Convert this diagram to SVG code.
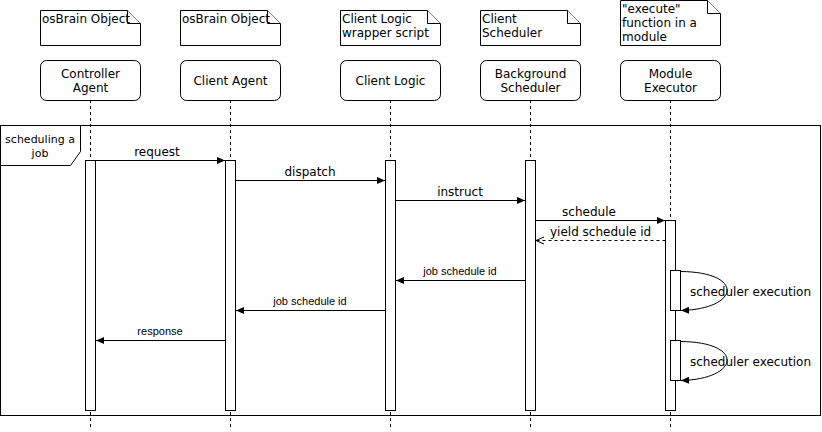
<svg xmlns="http://www.w3.org/2000/svg" width="822" height="432" viewBox="0 0 822 432">
<style>
.note{fill:#fff;stroke:#000;stroke-width:1}
.box{fill:#fff;stroke:#000;stroke-width:1}
.life{stroke:#000;stroke-width:1;stroke-dasharray:3 3;fill:none}
.act{fill:#fff;stroke:#000;stroke-width:1}
.msg{stroke:#000;stroke-width:1;fill:none}
.t{font-family:"DejaVu Sans",sans-serif;font-size:12px;fill:#000}
.tf{font-family:"DejaVu Sans",sans-serif;font-size:11px;fill:#000}
.ts{font-family:"Liberation Sans",Arial,sans-serif;font-size:11px;fill:#000}
.c{text-anchor:middle}
</style>
<defs>
<marker id="fa" markerWidth="10" markerHeight="10" refX="9" refY="5" orient="auto" markerUnits="userSpaceOnUse">
<path d="M1,1.5 L9,5 L1,8.5 Z" fill="#000"/>
</marker>
<marker id="oa" markerWidth="10" markerHeight="10" refX="9" refY="5" orient="auto" markerUnits="userSpaceOnUse">
<path d="M1,1.5 L9,5 L1,8.5" fill="none" stroke="#000"/>
</marker>
</defs>
<rect x="0" y="0" width="822" height="432" fill="#fff"/>

<g id="frame">
<rect x="0.5" y="125.5" width="820" height="290" fill="none" stroke="#000"/>
<path d="M0.5,125.5 H80.5 V151.5 L70.5,165.5 H0.5 Z" fill="#fff" stroke="#000"/>
<text class="tf c" x="40" y="143">scheduling a</text>
<text class="tf c" x="40" y="157">job</text>
</g>

<g id="note1"><path class="note" d="M40.5,10.5 H127.5 L140.5,23.5 V45.5 H40.5 Z"/><path class="note" d="M127.5,10.5 V23.5 H140.5" fill="none"/><text class="t" x="42" y="23">osBrain Object</text></g>
<g id="note2"><path class="note" d="M180.5,10.5 H267.5 L280.5,23.5 V45.5 H180.5 Z"/><path class="note" d="M267.5,10.5 V23.5 H280.5" fill="none"/><text class="t" x="182" y="23">osBrain Object</text></g>
<g id="note3"><path class="note" d="M340.5,10.5 H427.5 L440.5,23.5 V45.5 H340.5 Z"/><path class="note" d="M427.5,10.5 V23.5 H440.5" fill="none"/><text class="t" x="342" y="23">Client Logic</text><text class="t" x="342" y="37">wrapper script</text></g>
<g id="note4"><path class="note" d="M480.5,10.5 H567.5 L580.5,23.5 V45.5 H480.5 Z"/><path class="note" d="M567.5,10.5 V23.5 H580.5" fill="none"/><text class="t" x="482" y="23">Client</text><text class="t" x="482" y="37">Scheduler</text></g>
<g id="note5"><path class="note" d="M620.5,0.5 H707.5 L720.5,13.5 V45.5 H620.5 Z"/><path class="note" d="M707.5,0.5 V13.5 H720.5" fill="none"/><text class="t" x="622" y="13">"execute"</text><text class="t" x="622" y="27">function in a</text><text class="t" x="622" y="41">module</text></g>

<g id="controller">
<line class="life" x1="90.5" y1="100" x2="90.5" y2="428"/>
<rect class="box" x="40.5" y="60.5" width="100" height="40" rx="6"/>
<text class="t c" x="90.5" y="78">Controller</text><text class="t c" x="90.5" y="92">Agent</text>
<rect class="act" x="85.5" y="160.5" width="10" height="250"/>
</g>
<g id="clientagent">
<line class="life" x1="230.5" y1="100" x2="230.5" y2="428"/>
<rect class="box" x="180.5" y="60.5" width="100" height="40" rx="6"/>
<text class="t c" x="230.5" y="85">Client Agent</text>
<rect class="act" x="225.5" y="160.5" width="10" height="250"/>
</g>
<g id="clientlogic">
<line class="life" x1="390.5" y1="100" x2="390.5" y2="428"/>
<rect class="box" x="340.5" y="60.5" width="100" height="40" rx="6"/>
<text class="t c" x="390.5" y="85">Client Logic</text>
<rect class="act" x="385.5" y="160.5" width="10" height="250"/>
</g>
<g id="bgscheduler">
<line class="life" x1="530.5" y1="100" x2="530.5" y2="428"/>
<rect class="box" x="480.5" y="60.5" width="100" height="40" rx="6"/>
<text class="t c" x="530.5" y="78">Background</text><text class="t c" x="530.5" y="92">Scheduler</text>
<rect class="act" x="525.5" y="160.5" width="10" height="250"/>
</g>
<g id="moduleexecutor">
<line class="life" x1="670.5" y1="100" x2="670.5" y2="428"/>
<rect class="box" x="620.5" y="60.5" width="100" height="40" rx="6"/>
<text class="t c" x="670.5" y="78">Module</text><text class="t c" x="670.5" y="92">Executor</text>
<rect class="act" x="665.5" y="220.5" width="10" height="190"/>
<rect class="act" x="670.5" y="270.5" width="10" height="40"/>
<rect class="act" x="670.5" y="340.5" width="10" height="40"/>
</g>

<g id="connectors">
<line class="msg" x1="95.5" y1="160.5" x2="225" y2="160.5" marker-end="url(#fa)"/>
<text class="t c" x="157" y="156">request</text>
<line class="msg" x1="235.5" y1="180.5" x2="385" y2="180.5" marker-end="url(#fa)"/>
<text class="t c" x="310" y="176">dispatch</text>
<line class="msg" x1="395.5" y1="200.5" x2="525" y2="200.5" marker-end="url(#fa)"/>
<text class="t c" x="460" y="196">instruct</text>
<line class="msg" x1="535.5" y1="220.5" x2="665" y2="220.5" marker-end="url(#fa)"/>
<text class="t c" x="589" y="216">schedule</text>
<line class="msg" x1="665.5" y1="240.5" x2="536" y2="240.5" stroke-dasharray="3 3" marker-end="url(#oa)"/>
<text class="t" x="550" y="236">yield schedule id</text>
<line class="msg" x1="525.5" y1="280.5" x2="396" y2="280.5" marker-end="url(#fa)"/>
<text class="ts c" x="460" y="275">job schedule id</text>
<line class="msg" x1="385.5" y1="310.5" x2="236" y2="310.5" marker-end="url(#fa)"/>
<text class="ts c" x="310" y="305">job schedule id</text>
<line class="msg" x1="225.5" y1="340.5" x2="96" y2="340.5" marker-end="url(#fa)"/>
<text class="ts c" x="160" y="335">response</text>
<path class="msg" d="M680.5,271.5 C745,272 740,309 681,310.5" marker-end="url(#fa)"/>
<text class="t" x="690" y="296">scheduler execution</text>
<path class="msg" d="M680.5,341.5 C745,342 740,379 681,380.5" marker-end="url(#fa)"/>
<text class="t" x="690" y="366">scheduler execution</text>
</g>
</svg>
